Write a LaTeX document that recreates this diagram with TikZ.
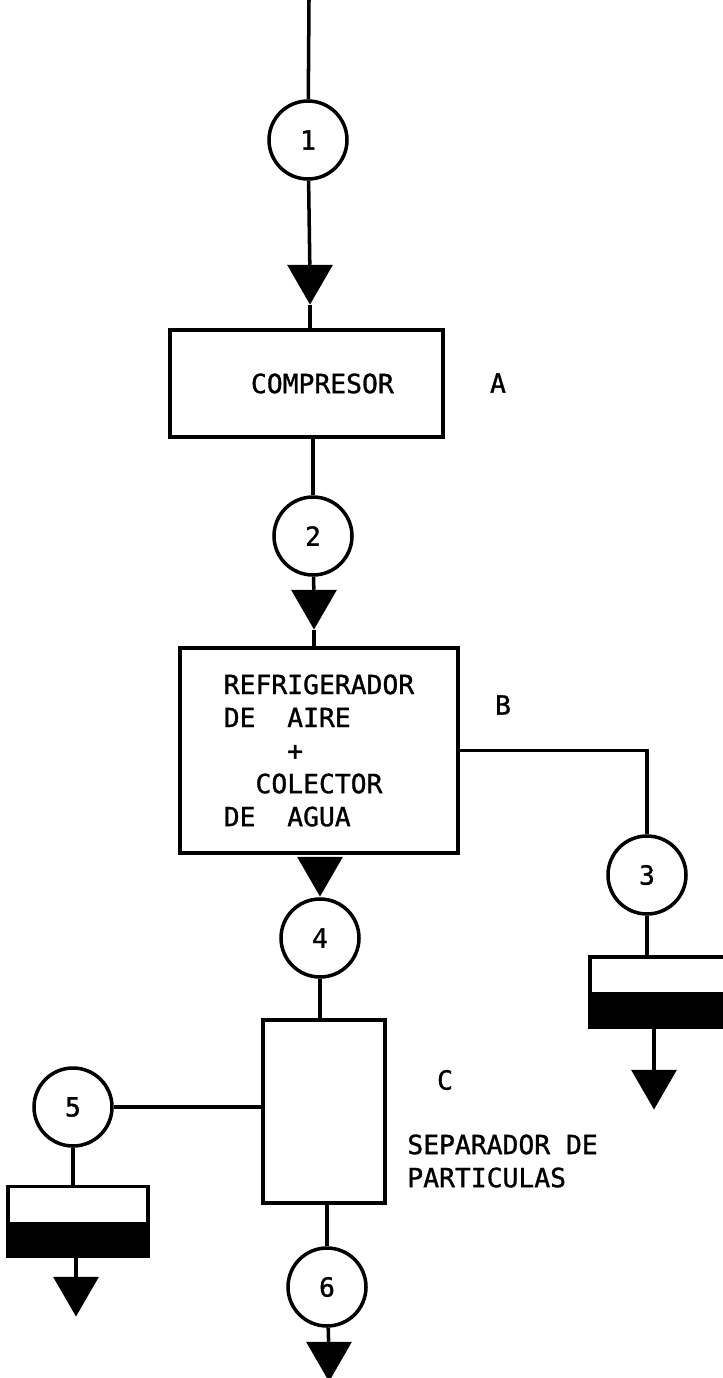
\documentclass[tikz,border=0pt]{standalone}
\usepackage{fontspec}
\setmonofont[FakeBold=1.2]{DejaVu Sans Mono}
\usepackage{tikz}
\usetikzlibrary{positioning,shapes.geometric}
\newcommand{\flowfont}{\ttfamily\fontsize{15}{18.8}\selectfont}
\tikzset{
  unit/.style={draw, line width=2.4pt, inner sep=0pt, align=left, font=\flowfont},
  stream/.style={circle, draw, line width=2pt, minimum size=15.6mm, inner sep=0pt, font=\flowfont},
  tri/.style={regular polygon, regular polygon sides=3, shape border rotate=180,
    fill=black, minimum size=10.6mm, inner sep=0pt, outer sep=0pt},
  tank/.style={draw, line width=2.2pt, minimum height=14mm, inner sep=0pt,
    path picture={\fill[black] (path picture bounding box.west) rectangle (path picture bounding box.south east);}},
  pipe/.style={line width=2pt},
  tag/.style={font=\flowfont, inner sep=0pt, align=left},
}

\begin{document}
\begin{tikzpicture}[x=0.2mm, y=-0.2mm]
  \useasboundingbox (0,0) rectangle (722,1378);

  % main line
  \coordinate (feed) at (309,0);
  \node[stream] (c1) at (308,140) {1};
  \node[tri] (t1) at (310,278) {};
  \node[unit, minimum width=54.6mm, minimum height=21.4mm, align=center] (comp) at (306.5,383.5) {~~COMPRESOR};
  \node[tag] (labA) at (498,383) {A};
  \node[stream] (c2) at (313,536) {2};
  \node[tri] (t2) at (314,603) {};
  \node[unit, minimum width=55.6mm, minimum height=41mm] (refr) at (319,750.5)
    {REFRIGERADOR\\DE~~AIRE\\~~~~+\\~~COLECTOR\\DE~~AGUA};
  \node[tag] (labB) at (503,705) {B};
  \node[tri] (t4) at (320,870) {};
  \node[stream] (c4) at (320,938) {4};
  \node[unit, minimum width=24.4mm, minimum height=36.6mm] (sep) at (324,1111.5) {};
  \node[tag] (labC) at (445,1080) {C};
  \node[tag, anchor=west] (sepname) at (407,1161) {SEPARADOR DE\\PARTICULAS};
  \node[stream] (c6) at (327,1287) {6};
  \node[tri] (t6) at (329,1355) {};

  % water branch
  \node[stream] (c3) at (647,875) {3};
  \node[tank, minimum width=27mm] (tank3) at (657.5,992) {};
  \node[tri] (t3) at (654,1083) {};

  % particle branch
  \node[stream] (c5) at (73,1107) {5};
  \node[tank, minimum width=28mm] (tank5) at (78,1221.5) {};
  \node[tri] (t5) at (76,1290) {};

  \draw[pipe] (feed) -- (c1);
  \draw[pipe] (c1) -- (t1);
  \draw[pipe] (t1) -- (t1 |- comp.north);
  \draw[pipe] (comp.south -| c2) -- (c2);
  \draw[pipe] (c2) -- (t2);
  \draw[pipe] (t2) -- (t2 |- refr.north);
  \draw[pipe] (c4) -- (c4 |- sep.north);
  \draw[pipe] (sep.south -| c6) -- (c6);
  \draw[pipe] (c6) -- (t6);
  \draw[pipe] (refr.east) -| (c3);
  \draw[pipe] (c3) -- (c3 |- tank3.north);
  \draw[pipe] (tank3.south -| t3) -- (t3);
  \draw[pipe] (sep.west |- c5) -- (c5);
  \draw[pipe] (c5) -- (c5 |- tank5.north);
  \draw[pipe] (tank5.south -| t5) -- (t5);
\end{tikzpicture}
\end{document}
